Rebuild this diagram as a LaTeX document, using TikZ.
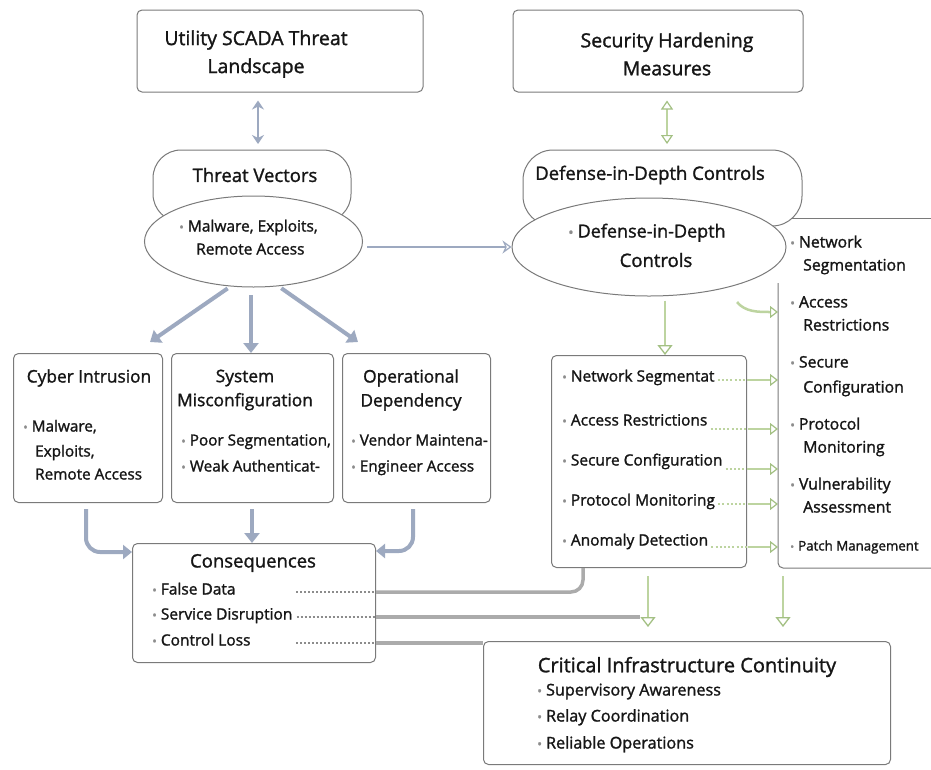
\documentclass[tikz,border=0pt]{standalone}
\usepackage{fontspec}
\setmainfont{Open Sans}[FakeBold=1.4]
\usetikzlibrary{arrows.meta,shapes.geometric}
\definecolor{boxc}{HTML}{7A7A7A}
\definecolor{txt}{HTML}{161616}
\definecolor{bulc}{HTML}{8C8C8C}
\definecolor{bluec}{HTML}{9DA9C0}
\definecolor{greenc}{HTML}{BDD4A0}
\definecolor{greend}{HTML}{A3C083}
\definecolor{grayl}{HTML}{ABABAB}
\newcommand{\bu}{{\color{bulc}\scalebox{0.8}{\textbullet}}\hspace{4pt}}
\begin{document}
\begin{tikzpicture}[x=1pt,y=-1pt,
  box/.style={draw=boxc, line width=1pt, rounded corners=5pt, fill=white, inner sep=0pt},
  ttl/.style={font=\fontsize{18.5}{24}\selectfont, text=txt, align=center, inner sep=0pt},
  topttl/.style={ttl, font=\fontsize{19.5}{28}\selectfont},
  catttl/.style={ttl, font=\fontsize{17.3}{24}\selectfont},
  critttl/.style={ttl, font=\fontsize{20}{24}\selectfont},
  itm/.style={font=\fontsize{15.5}{18}\selectfont, text=txt, anchor=west, inner sep=0pt, text height=0.75em, text depth=0.25em},
  catitm/.style={itm, font=\fontsize{15.3}{18}\selectfont},
  panitm/.style={itm, font=\fontsize{15.8}{18}\selectfont},
  critm/.style={itm, font=\fontsize{16.2}{18}\selectfont},
  sitm/.style={itm, font=\fontsize{13.3}{18}\selectfont},
  bigitm/.style={itm, font=\fontsize{18}{24}\selectfont},
  barrow/.style={draw=bluec, line width=4pt, -{Triangle[length=10pt,width=15pt]}},
  bdarrow/.style={draw=bluec, line width=2.5pt, {Stealth[length=9pt,width=12pt]}-{Stealth[length=9pt,width=12pt]}},
  garrow/.style={draw=greenc, line width=2.8pt, -{Triangle[open,length=10pt,width=15pt,line width=1.3pt,color=greend]}},
  gsarrow/.style={draw=greenc, line width=2.5pt, -{Triangle[open,length=8pt,width=12pt,line width=1.2pt,color=greend]}},
  gdarrow/.style={draw=greenc, line width=2.5pt, {Triangle[open,length=9pt,width=12pt,line width=1.2pt,color=greend]}-{Triangle[open,length=9pt,width=12pt,line width=1.2pt,color=greend]}},
  gdot/.style={draw=greenc, line width=2.4pt, dash pattern=on 2pt off 2.2pt},
  graydot/.style={draw=bulc, line width=1.3pt, dash pattern=on 2pt off 2pt},
  grayln/.style={draw=grayl, line width=3.5pt}
]
\useasboundingbox[fill=white] (0,0) rectangle (931,769);

% ---------- top boxes ----------
\node[box, minimum width=286pt, minimum height=82pt] (tl) at (280,51) {};
\node[topttl] (tlt) at (256,54) {Utility SCADA Threat\\Landscape};
\node[box, minimum width=290pt, minimum height=82pt] (tr) at (658,51) {};
\node[topttl] (trt) at (667,54) {Security Hardening\\Measures};

% ---------- right panel ----------
\node[minimum width=157pt, minimum height=350pt, inner sep=0pt, anchor=north west] (panel) at (778,218) {};
\draw[draw=boxc, line width=1pt] (783,218) -- (935,218);
\draw[draw=boxc, line width=1pt, rounded corners=5pt] (778,283) -- (778,568) -- (935,568);

% ---------- threat vectors shapes ----------
\draw[draw=boxc, line width=1pt, fill=white, rounded corners=28pt] (153,150) rectangle (351,222);
\node[ttl] (tvt) at (255,175) {Threat Vectors};
\node[ellipse, draw=boxc, line width=1pt, fill=white, minimum width=218pt, minimum height=91pt, inner sep=0pt] (tve) at (253.5,241.5) {};
\node[itm] (tve1) at (179,229) {\bu Malware, Exploits,};
\node[itm] (tve2) at (196,252) {Remote Access};

% ---------- defense shapes ----------
\draw[draw=boxc, line width=1pt, fill=white, rounded corners=30pt] (523,150) rectangle (802,226);
\node[ttl] (didt) at (650,175) {Defense-in-Depth Controls};
\node[ellipse, draw=boxc, line width=1pt, fill=white, minimum width=274pt, minimum height=98pt, inner sep=0pt] (dide) at (649,247) {};
\node[bigitm] (dide1) at (568,235) {\bu Defense-in-Depth};
\node[ttl] (dide2) at (656,260) {Controls};

% panel items
\node[panitm] (p1) at (790,245) {\bu Network};
\node[panitm] (p1b) at (803,268) {Segmentation};
\node[panitm] (p2) at (790,305) {\bu Access};
\node[panitm] (p2b) at (803,328) {Restrictions};
\node[panitm] (p3) at (790,365) {\bu Secure};
\node[panitm] (p3b) at (803,390) {Configuration};
\node[panitm] (p4) at (790,427) {\bu Protocol};
\node[panitm] (p4b) at (803,450) {Monitoring};
\node[panitm] (p5) at (790,487) {\bu Vulnerability};
\node[panitm] (p5b) at (803,510) {Assessment};
\node[sitm] (p6) at (790,548) {\bu Patch Management};

% ---------- middle control box ----------
\node[box, minimum width=195pt, minimum height=212pt, anchor=north west] (mid) at (551,355) {};
\node[itm] (m1) at (562,379) {\bu Network Segmentat};
\node[itm] (m2) at (562,423) {\bu Access Restrictions};
\node[itm] (m3) at (562,463) {\bu Secure Configuration};
\node[itm] (m4) at (562,503) {\bu Protocol Monitoring};
\node[itm] (m5) at (562,543) {\bu Anomaly Detection};

% ---------- threat category boxes ----------
\node[box, minimum width=149pt, minimum height=149pt, anchor=north west] (cy) at (13,353) {};
\node[catttl] (cyt) at (89,378) {Cyber Intrusion};
\node[catitm] (cy1) at (23,429) {\bu Malware,};
\node[catitm] (cy2) at (35,454) {Exploits,};
\node[catitm] (cy3) at (35,477) {Remote Access};

\node[box, minimum width=162pt, minimum height=149pt, anchor=north west] (sy) at (171,353) {};
\node[catttl] (syt) at (245,390) {System\\Misconfiguration};
\node[catitm] (sy1) at (181,443) {\bu Poor Segmentation,};
\node[catitm] (sy2) at (181,469) {\bu Weak Authenticat-};

\node[box, minimum width=148pt, minimum height=149pt, anchor=north west] (op) at (342,353) {};
\node[catttl] (opt) at (411,390) {Operational\\Dependency};
\node[catitm] (op1) at (351,443) {\bu Vendor Maintena-};
\node[catitm] (op2) at (351,469) {\bu Engineer Access};

% ---------- consequences ----------
\node[box, minimum width=243pt, minimum height=119pt, anchor=north west] (cons) at (132,543) {};
\node[ttl] (const) at (253,563) {Consequences};
\node[itm] (c1) at (152,592) {\bu False Data};
\node[itm] (c2) at (152,617) {\bu Service Disruption};
\node[itm] (c3) at (152,643) {\bu Control Loss};

% ---------- critical ----------
\node[box, minimum width=407pt, minimum height=123pt, anchor=north west] (crit) at (483,641) {};
\node[critttl] (critt) at (687,667) {Critical Infrastructure Continuity};
\node[critm] (k1) at (537,693) {\bu Supervisory Awareness};
\node[critm] (k2) at (537,719) {\bu Relay Coordination};
\node[critm] (k3) at (537,746) {\bu Reliable Operations};

% ---------- connectors ----------
\draw[bdarrow] (tl.south -| 258,0) ++(0,8) -- (258,144);
\draw[gdarrow] (tr.south -| 667,0) ++(0,8) -- (667,144);

\draw[draw=bluec, line width=2.5pt, -{Stealth[open,length=9pt,width=13pt,line width=1.2pt]}] (tve.east) ++(4,5.5) coordinate (h1) -- (h1 -| dide.west);

\draw[barrow] (tve.-118) ++(-2,2) coordinate (d1) -- (150,342);
\draw[barrow] (251,295) coordinate (d2) -- (d2 |- sy.north);
\draw[barrow] (tve.-60) ++(2,2) coordinate (d3) -- (358,342);

\draw[draw=bluec, line width=4pt, rounded corners=14pt, -{Triangle[length=9pt,width=14pt]}] (cy.south -| 86,0) ++(0,6) -- (86,552) -- (cons.west |- 0,552);
\draw[barrow] (sy.south -| 252,0) ++(0,6) -- (cons.north -| 252,0);
\draw[draw=bluec, line width=4pt, rounded corners=14pt, -{Triangle[length=9pt,width=14pt]}] (op.south -| 413,0) ++(0,6) -- (413,551) -- (cons.east |- 0,551);

% consequences lines
\draw[graydot] (cons.east |- c1) ++(-80,0) coordinate (g1) -- (g1 -| cons.east);
\draw[grayln, rounded corners=12pt] (cons.east |- c1) -- (583,592) -- (mid.south -| 583,0);
\draw[graydot] (c2.east) ++(4,0) coordinate (g2) -- (g2 -| cons.east);
\draw[grayln] (cons.east |- c2) -- (640,617);
\draw[graydot] (cons.east |- c3) ++(-80,0) coordinate (g3) -- (g3 -| cons.east);
\draw[grayln] (cons.east |- c3) -- (c3 -| crit.west);

% green arrows
\draw[garrow] (dide.south) ++(16,4) coordinate (e1) -- (e1 |- mid.north);
\draw[gsarrow] (737,302) .. controls (745,312) and (758,312) .. (panel.west |- 0,312);
\draw[garrow] (mid.south -| 648,0) ++(0,8) -- (648,627);
\draw[garrow] (panel.south -| 783,0) ++(0,8) -- (783,627);

% dotted green arrows mid -> panel
\foreach \n/\yy in {m1/380,m2/429,m3/469,m4/504,m5/547}{
  \draw[gdot] (\n.east |- 0,\yy) ++(3,0) -- (750,\yy);
  \draw[gsarrow] (748,\yy) -- (panel.west |- 0,\yy);
}
\end{tikzpicture}
\end{document}
